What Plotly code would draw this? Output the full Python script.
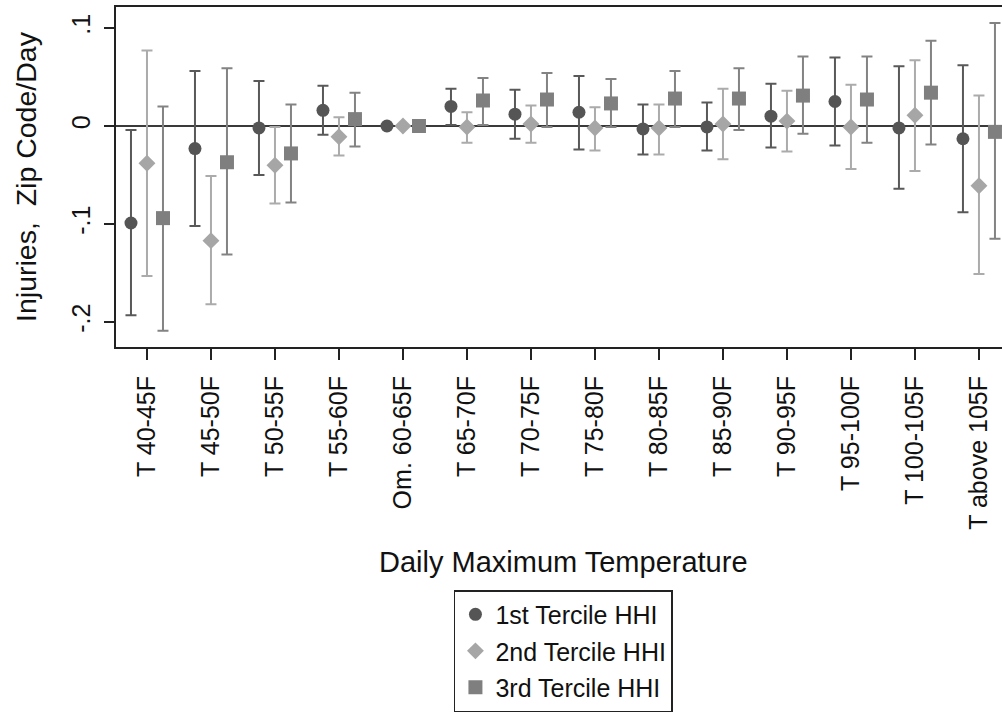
import plotly.graph_objects as go

# Temperature bins (Om. = omitted reference bin)
categories = ["T 40-45F", "T 45-50F", "T 50-55F", "T 55-60F", "Om. 60-65F",
              "T 65-70F", "T 70-75F", "T 75-80F", "T 80-85F", "T 85-90F",
              "T 90-95F", "T 95-100F", "T 100-105F", "T above 105F"]

# Point estimates and 95% CI bounds by HHI tercile (None = omitted bin)
t1_est = [-0.099, -0.023, -0.002, 0.016, 0.0, 0.020, 0.012, 0.014, -0.003, -0.001, 0.010, 0.025, -0.002, -0.013]
t1_hi = [-0.004, 0.056, 0.046, 0.041, None, 0.038, 0.037, 0.051, 0.022, 0.024, 0.043, 0.070, 0.061, 0.062]
t1_lo = [-0.193, -0.102, -0.050, -0.009, None, 0.001, -0.013, -0.024, -0.029, -0.025, -0.022, -0.020, -0.064, -0.088]

t2_est = [-0.038, -0.117, -0.040, -0.011, 0.0, -0.001, 0.002, -0.002, -0.002, 0.002, 0.005, -0.001, 0.011, -0.061]
t2_hi = [0.077, -0.051, -0.001, 0.009, None, 0.014, 0.021, 0.019, 0.022, 0.038, 0.036, 0.042, 0.067, 0.031]
t2_lo = [-0.153, -0.182, -0.079, -0.030, None, -0.017, -0.017, -0.025, -0.029, -0.034, -0.026, -0.044, -0.046, -0.151]

t3_est = [-0.094, -0.037, -0.028, 0.007, 0.0, 0.026, 0.027, 0.023, 0.028, 0.028, 0.031, 0.027, 0.034, -0.006]
t3_hi = [0.020, 0.059, 0.022, 0.034, None, 0.049, 0.054, 0.048, 0.056, 0.059, 0.071, 0.071, 0.087, 0.105]
t3_lo = [-0.209, -0.131, -0.078, -0.021, None, 0.001, -0.001, -0.001, -0.001, -0.004, -0.008, -0.017, -0.019, -0.115]

y_tickvals = [0.1, 0.0, -0.1, -0.2]
y_ticktext = [".1", "0", "-.1", "-.2"]

FONT = "Liberation Sans, Arial, sans-serif"

series = [
    ("1st Tercile HHI", t1_est, t1_lo, t1_hi, -0.25, "circle", 13, "#555555", "#595959"),
    ("2nd Tercile HHI", t2_est, t2_lo, t2_hi, 0.0, "diamond", 13, "#a6a6a6", "#ababab"),
    ("3rd Tercile HHI", t3_est, t3_lo, t3_hi, 0.25, "square", 14, "#7f7f7f", "#838383"),
]

fig = go.Figure()
for i, (name, est, lo, hi, dx, sym, size, mcol, ecol) in enumerate(series):
    xs = [k + dx for k in range(len(categories))]
    plus = [None if h is None else h - e for h, e in zip(hi, est)]
    minus = [None if l is None else e - l for l, e in zip(lo, est)]
    fig.add_trace(go.Scatter(
        x=xs, y=est, mode="markers", name=name, legendgroup=name,
        marker=dict(symbol=sym, size=size, color=mcol, line=dict(width=0)),
        error_y=dict(type="data", symmetric=False, array=plus, arrayminus=minus,
                     color=ecol, thickness=2, width=5.5),
    ))

fig.update_layout(
    width=1002, height=715, autosize=False,
    margin=dict(l=116, r=0, t=7, b=368, pad=0),
    paper_bgcolor="white", plot_bgcolor="white",
    font=dict(family=FONT, color="#111111"),
    showlegend=True,
    legend=dict(
        x=0.505, xanchor="center", y=-0.715, yanchor="top",
        bordercolor="#222222", borderwidth=1.5, bgcolor="white",
        font=dict(size=25, family=FONT, color="#111111"),
        traceorder="grouped", tracegroupgap=1, itemwidth=30,
    ),
    xaxis=dict(
        range=[-0.484, 13.36], tickmode="array",
        tickvals=list(range(len(categories))), ticktext=categories,
        tickangle=-90, tickfont=dict(size=25, family=FONT, color="#111111"),
        ticks="outside", ticklen=11, tickwidth=1.5, tickcolor="#222222",
        ticklabelstandoff=6,
        showline=True, linecolor="#222222", linewidth=2, mirror=True,
        showgrid=False, zeroline=False,
    ),
    yaxis=dict(
        range=[-0.2255, 0.1214], tickmode="array",
        tickvals=y_tickvals, ticktext=y_ticktext, tickangle=-90,
        tickfont=dict(size=25, family=FONT, color="#111111"),
        ticks="outside", ticklen=10, tickwidth=1.5, tickcolor="#222222",
        ticklabelstandoff=4,
        showline=True, linecolor="#222222", linewidth=2, mirror=False,
        showgrid=False, zeroline=True, zerolinecolor="#3a3a3a", zerolinewidth=2,
    ),
    annotations=[
        dict(text="Daily Maximum Temperature", xref="paper", yref="paper",
             x=0.505, y=-0.632, xanchor="center", yanchor="middle", showarrow=False,
             font=dict(size=29, family=FONT, color="#111111")),
        dict(text="Injuries,  Zip Code/Day", xref="paper", yref="paper",
             x=-0.1016, y=0.503, xanchor="center", yanchor="middle", showarrow=False,
             textangle=-90, font=dict(size=28.5, family=FONT, color="#111111")),
    ],
)

fig.write_html("out.html")
